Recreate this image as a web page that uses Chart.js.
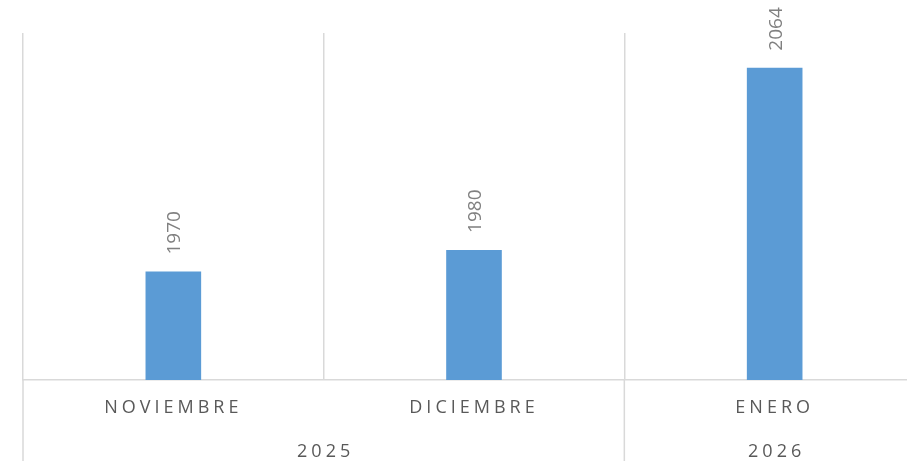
<!DOCTYPE html>
<html>
<head>
<meta charset="utf-8">
<script src="https://cdn.jsdelivr.net/npm/chart.js@4"></script>
<style>
  html, body { margin: 0; padding: 0; overflow: hidden; background: #ffffff; }
  #wrap { width: 925px; height: 461px; position: relative; }
</style>
</head>
<body>
<div id="wrap"><canvas id="c"></canvas></div>
<script>
const categories = ['NOVIEMBRE', 'DICIEMBRE', 'ENERO'];
const years = ['2025', '2026'];
const yearSpans = [2, 1];
const values = [1970, 1980, 2064];
const yMin = 1920;
const yMax = 2080;

const FONT = '"Open Sans", "Liberation Sans", sans-serif';
const GRID = '#d9d9d9';

const spacingPlugin = {
  id: 'spacing',
  beforeDraw(chart) { chart.ctx.letterSpacing = '4px'; },
  beforeDatasetsDraw(chart) { chart.ctx.letterSpacing = '0px'; }
};

const groupPlugin = {
  id: 'groups',
  afterDraw(chart) {
    const ctx = chart.ctx;
    const xs = chart.scales.x;
    const bottom = chart.height;
    ctx.save();
    // group separators below axis
    ctx.strokeStyle = GRID;
    ctx.lineWidth = 1.5;
    let start = 0;
    const bounds = [start];
    yearSpans.forEach(s => { start += s; bounds.push(start); });
    bounds.forEach(b => {
      const x = xs.getPixelForValue(b - 0.5);
      ctx.beginPath();
      ctx.moveTo(x, xs.top);
      ctx.lineTo(x, bottom);
      ctx.stroke();
    });
    // year labels
    ctx.fillStyle = '#595959';
    ctx.font = '18px ' + FONT;
    ctx.letterSpacing = '4px';
    ctx.textAlign = 'center';
    ctx.textBaseline = 'alphabetic';
    for (let i = 0; i < years.length; i++) {
      const x0 = xs.getPixelForValue(bounds[i] - 0.5);
      const x1 = xs.getPixelForValue(bounds[i + 1] - 0.5);
      ctx.fillText(years[i], (x0 + x1) / 2 + 2, 457);
    }
    ctx.letterSpacing = '0px';
    // data labels
    const meta = chart.getDatasetMeta(0);
    ctx.fillStyle = '#808080';
    ctx.font = '19px ' + FONT;
    ctx.textAlign = 'left';
    ctx.textBaseline = 'alphabetic';
    meta.data.forEach((bar, i) => {
      ctx.save();
      ctx.translate(bar.x, bar.y - 17);
      ctx.rotate(-Math.PI / 2);
      ctx.fillText(String(values[i]), 0, 7);
      ctx.restore();
    });
    ctx.restore();
  }
};

new Chart(document.getElementById('c'), {
  type: 'bar',
  data: {
    labels: categories,
    datasets: [{
      data: values,
      backgroundColor: '#5b9bd5',
      borderWidth: 0,
      barPercentage: 0.185,
      categoryPercentage: 1
    }]
  },
  options: {
    responsive: true,
    maintainAspectRatio: false,
    animation: false,
    events: [],
    layout: { padding: { left: 23, top: 33, right: 0, bottom: 0 } },
    plugins: { legend: { display: false }, tooltip: { enabled: false } },
    scales: {
      y: {
        display: false,
        min: yMin,
        max: yMax
      },
      x: {
        offset: true,
        grid: { offset: true, color: GRID, lineWidth: 1.5, drawTicks: false },
        border: { display: true, color: GRID, width: 1.5 },
        ticks: {
          color: '#595959',
          font: { family: FONT, size: 18 },
          padding: 17,
          autoSkip: false,
          maxRotation: 0,
          minRotation: 0
        },
        afterFit(scale) { scale.height = 81; }
      }
    }
  },
  plugins: [spacingPlugin, groupPlugin]
});
</script>
</body>
</html>
